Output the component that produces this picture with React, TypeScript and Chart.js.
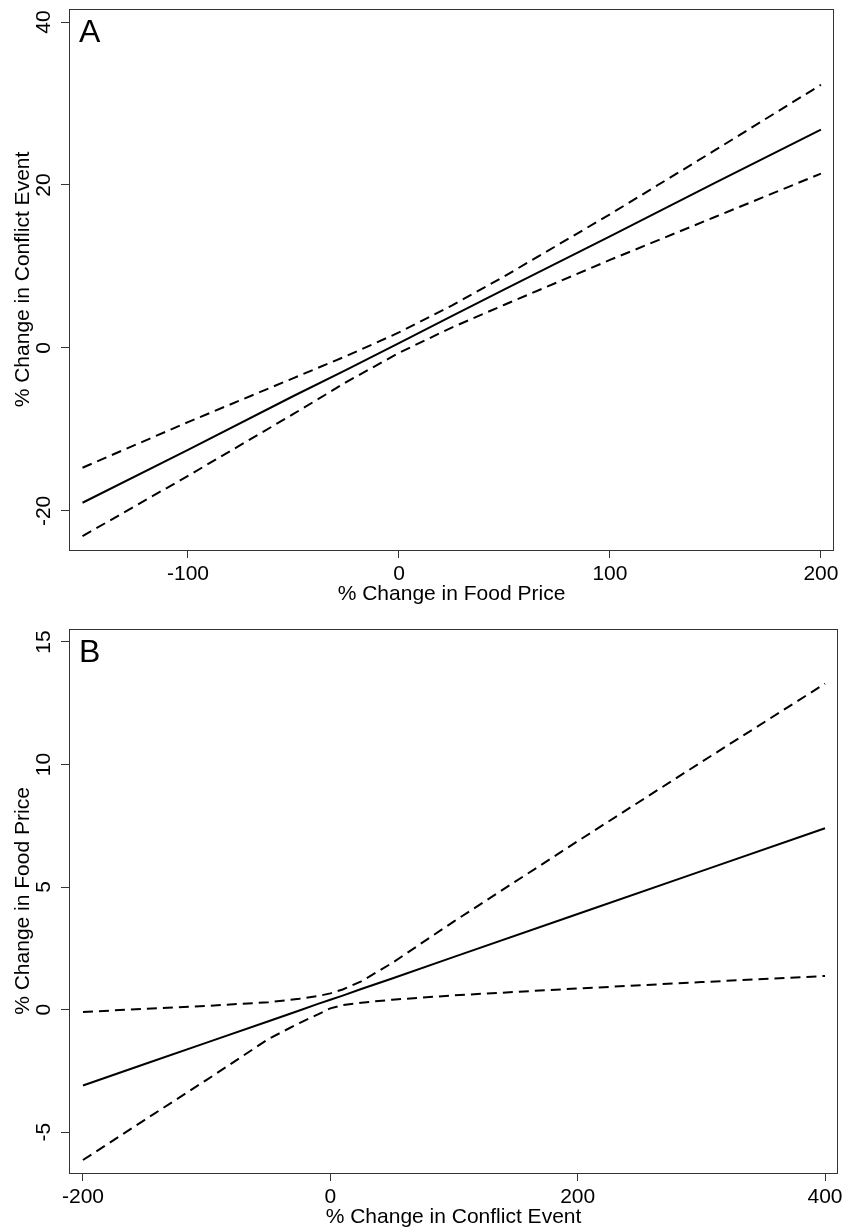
import React, { useEffect, useRef } from 'react';
import { Chart, registerables } from 'chart.js';

Chart.register(...registerables);

// ---------- Panel A data ----------
const foodPriceChange = [-150, -100, -50, -25, 0, 25, 50, 100, 150, 200];
const conflictFitA = [-19.0, -12.5, -5.9, -2.7, 0.6, 3.9, 7.2, 13.7, 20.3, 26.8];
const conflictUpperA = [-14.7, -9.1, -3.7, -1.0, 1.9, 5.2, 8.8, 16.4, 24.3, 32.3];
const conflictLowerA = [-23.1, -15.7, -8.1, -4.2, -0.6, 2.5, 5.3, 10.8, 16.1, 21.4];
const xTicksA = [-100, 0, 100, 200];
const yTicksA = [-20, 0, 20, 40];

// ---------- Panel B data ----------
const conflictChange = [-200, -150, -100, -50, -25, -10, 0, 10, 25, 50, 100, 200, 300, 400];
const priceFitB = [-3.1, -2.22, -1.35, -0.48, -0.04, 0.23, 0.4, 0.57, 0.84, 1.27, 2.15, 3.9, 5.65, 7.4];
const priceUpperB = [-0.1, 0.03, 0.15, 0.3, 0.44, 0.55, 0.66, 0.82, 1.15, 1.9, 3.6, 6.87, 10.1, 13.3];
const priceLowerB = [-6.14, -4.5, -2.87, -1.2, -0.55, -0.2, 0.05, 0.18, 0.28, 0.4, 0.58, 0.86, 1.12, 1.37];
const xTicksB = [-200, 0, 200, 400];
const yTicksB = [-5, 0, 5, 10, 15];

const FONT = '"Liberation Sans", Arial, Helvetica, sans-serif';
Chart.defaults.font.family = FONT;

const framePlugin = {
  id: 'frame',
  afterDraw(chart: any, _args: any, opts: any) {
    const { ctx, chartArea: a, scales } = chart;
    ctx.save();
    ctx.strokeStyle = '#333';
    ctx.lineWidth = 1;
    ctx.strokeRect(a.left + 0.5, a.top + 0.5, a.right - a.left - 1, a.bottom - a.top);
    ctx.fillStyle = '#000';
    ctx.font = `21px ${FONT}`;
    ctx.textAlign = 'center';
    ctx.textBaseline = 'alphabetic';
    for (const t of scales.y.ticks) {
      const py = scales.y.getPixelForValue(t.value);
      ctx.save();
      ctx.translate(50, py);
      ctx.rotate(-Math.PI / 2);
      ctx.fillText(String(t.value), 0, 0);
      ctx.restore();
    }
    ctx.save();
    ctx.translate(29, (a.top + a.bottom) / 2);
    ctx.rotate(-Math.PI / 2);
    ctx.fillText(opts.yTitle, 0, 0);
    ctx.restore();
    ctx.font = `32px ${FONT}`;
    ctx.textAlign = 'left';
    ctx.fillText(opts.letter, a.left + 10, a.top + 33);
    ctx.restore();
  },
};

function lineSet(xs: number[], ys: number[], dashed: boolean) {
  return {
    data: xs.map((x, i) => ({ x, y: ys[i] })),
    borderColor: '#000',
    borderWidth: 2,
    borderDash: dashed ? [10, 6] : [],
    pointRadius: 0,
    tension: 0,
    fill: false,
  };
}

function makeConfig(p: any): any {
  return {
    type: 'line',
    data: {
      datasets: [
        lineSet(p.xs, p.fit, false),
        lineSet(p.xs, p.upper, true),
        lineSet(p.xs, p.lower, true),
      ],
    },
    options: {
      responsive: false,
      animation: false,
      devicePixelRatio: 1,
      layout: { padding: { top: p.padTop, right: p.padRight, left: 0, bottom: 0 } },
      plugins: {
        legend: { display: false },
        tooltip: { enabled: false },
        frame: { letter: p.letter, yTitle: p.yTitle },
      },
      scales: {
        x: {
          type: 'linear',
          min: p.xMin,
          max: p.xMax,
          afterBuildTicks: (s: any) => {
            s.ticks = p.xTicks.map((v: number) => ({ value: v }));
          },
          afterFit: (s: any) => {
            s.height = p.xHeight;
            s.paddingLeft = 0;
            s.paddingRight = 0;
          },
          grid: { drawOnChartArea: false, drawTicks: true, tickLength: 8, color: '#333' },
          border: { display: false },
          ticks: {
            color: '#000',
            font: { size: 21 },
            padding: 4,
            maxRotation: 0,
            minRotation: 0,
            autoSkip: false,
            callback: (v: any) => String(v),
          },
          title: {
            display: true,
            text: p.xTitle,
            color: '#000',
            font: { size: 21 },
            padding: { top: 0, bottom: p.titlePad },
          },
        },
        y: {
          type: 'linear',
          min: p.yMin,
          max: p.yMax,
          afterBuildTicks: (s: any) => {
            s.ticks = p.yTicks.map((v: number) => ({ value: v }));
          },
          afterFit: (s: any) => {
            s.width = 69;
            s.paddingTop = 0;
            s.paddingBottom = 0;
          },
          grid: { drawOnChartArea: false, drawTicks: true, tickLength: 8, color: '#333' },
          border: { display: false },
          ticks: { display: false },
          title: { display: false },
        },
      },
    },
    plugins: [framePlugin],
  };
}

const panelA = {
  letter: 'A',
  xs: foodPriceChange,
  fit: conflictFitA,
  upper: conflictUpperA,
  lower: conflictLowerA,
  xTicks: xTicksA,
  yTicks: yTicksA,
  xMin: -156.4,
  xMax: 206.2,
  yMin: -24.8,
  yMax: 41.6,
  padTop: 9,
  padRight: 11,
  xHeight: 65,
  titlePad: 8,
  xTitle: '% Change in Food Price',
  yTitle: '% Change in Conflict Event',
};

const panelB = {
  letter: 'B',
  xs: conflictChange,
  fit: priceFitB,
  upper: priceUpperB,
  lower: priceLowerB,
  xTicks: xTicksB,
  yTicks: yTicksB,
  xMin: -211.3,
  xMax: 410.5,
  yMin: -6.67,
  yMax: 15.53,
  padTop: 14,
  padRight: 7,
  xHeight: 57,
  titlePad: 0,
  xTitle: '% Change in Conflict Event',
  yTitle: '% Change in Food Price',
};

export default function App() {
  const refA = useRef<HTMLCanvasElement>(null);
  const refB = useRef<HTMLCanvasElement>(null);
  useEffect(() => {
    const a = new Chart(refA.current as any, makeConfig(panelA));
    const b = new Chart(refB.current as any, makeConfig(panelB));
    return () => {
      a.destroy();
      b.destroy();
    };
  }, []);
  return (
    <div style={{ position: 'absolute', left: 0, top: 0, width: 845, height: 1230, background: '#fff' }}>
      <canvas
        ref={refA}
        width={845}
        height={615}
        style={{ position: 'absolute', left: 0, top: 0, width: 845, height: 615 }}
      />
      <canvas
        ref={refB}
        width={845}
        height={615}
        style={{ position: 'absolute', left: 0, top: 615, width: 845, height: 615 }}
      />
    </div>
  );
}
